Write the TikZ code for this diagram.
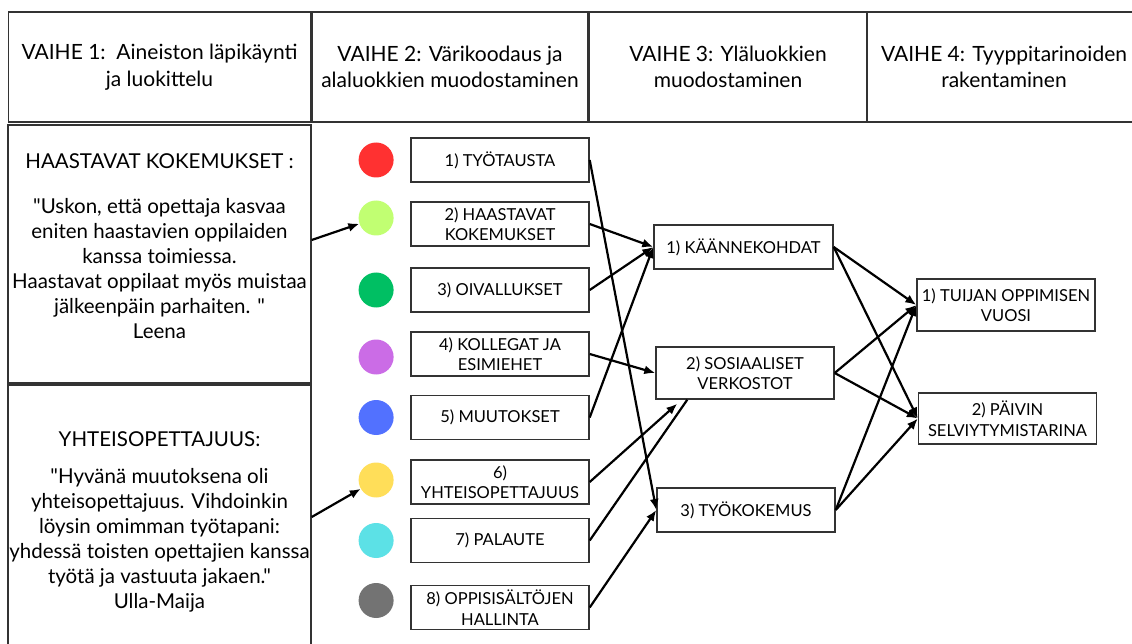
\documentclass[tikz,border=0pt]{standalone}
\usepackage{fontspec}
\setmainfont{Lato}[Ligatures=TeXOff]
\usetikzlibrary{positioning,arrows.meta}

\definecolor{reuna}{HTML}{333333}
\definecolor{punainen}{HTML}{FF3131}
\definecolor{lime}{HTML}{C1FF72}
\definecolor{vihrea}{HTML}{00BF63}
\definecolor{violetti}{HTML}{CB6CE6}
\definecolor{sininen}{HTML}{5271FF}
\definecolor{keltainen}{HTML}{FFDE59}
\definecolor{turkoosi}{HTML}{5CE1E6}
\definecolor{harmaa}{HTML}{737373}

\tikzset{
  vaihe/.style={draw=reuna, line width=1.4pt, minimum height=110pt, inner sep=0pt,
    align=center, font=\fontsize{21}{26.5}\selectfont},
  paneeli/.style={draw=reuna, line width=1.4pt, minimum width=303pt, inner sep=0pt},
  lainaus/.style={align=center, font=\fontsize{20.5}{25}\selectfont, inner sep=0pt},
  pallo/.style={circle, minimum size=35pt, inner sep=0pt},
  luokka/.style={draw=reuna, line width=1.4pt, minimum width=178pt, minimum height=44pt,
    inner sep=3pt, align=center, font=\fontsize{16.5}{20.5}\selectfont},
  nuoli/.style={-{Latex[length=11pt,width=9pt]}, line width=2.2pt},
  viiva/.style={line width=2.2pt},
}

\begin{document}
\begin{tikzpicture}[x=1pt, y=-1pt, node distance=16.5pt]

  \path[use as bounding box, fill=white] (0,0) rectangle (1132,644);

  % Header row
  \node[vaihe, minimum width=302pt] (vaihe1) at (159.5,67) {VAIHE 1:\ \ Aineiston läpikäynti\\ja luokittelu};
  \node[vaihe, minimum width=276pt] (vaihe2) at (450,67)   {VAIHE 2: Värikoodaus ja\\alaluokkien muodostaminen};
  \node[vaihe, minimum width=278pt] (vaihe3) at (728,67)   {VAIHE 3: Yläluokkien\\muodostaminen};
  \node[vaihe, minimum width=274pt] (vaihe4) at (1004,67)  {VAIHE 4: Tyyppitarinoiden\\rakentaminen};

  % Quote panels
  \node[paneeli, minimum height=258pt] (haaste) at (159.5,254) {};
  \node[lainaus] (haasteteksti) at (159.5,246) {HAASTAVAT KOKEMUKSET :\\[20pt]
    "Uskon, että opettaja kasvaa\\eniten haastavien oppilaiden\\kanssa toimiessa.\\
    Haastavat oppilaat myös muistaa\\jälkeenpäin parhaiten. "\\Leena};

  \node[paneeli, minimum height=272pt] (yhteis) at (159.5,521) {};
  \node[lainaus] (yhteisteksti) at (159.5,522) {YHTEISOPETTAJUUS:\\[12pt]
    "Hyvänä muutoksena oli\\yhteisopettajuus. Vihdoinkin\\löysin omimman työtapani:\\
    yhdessä toisten opettajien kanssa\\työtä ja vastuuta jakaen."\\Ulla-Maija};

  % Sub-categories
  \node[luokka] (tyotausta)   at (500,160)   {1) TYÖTAUSTA};
  \node[luokka] (haastavat)   at (500,224)   {2) HAASTAVAT\\KOKEMUKSET};
  \node[luokka] (oivallukset) at (500,290)   {3) OIVALLUKSET};
  \node[luokka] (kollegat)    at (500,354)   {4) KOLLEGAT JA\\ESIMIEHET};
  \node[luokka] (muutokset)   at (500,417.5) {5) MUUTOKSET};
  \node[luokka] (yhteisope)   at (500,482)   {6)\\YHTEISOPETTAJUUS};
  \node[luokka] (palaute)     at (500,540.5) {7) PALAUTE};
  \node[luokka] (sisallot)    at (500,607.5) {8) OPPISISÄLTÖJEN\\HALLINTA};

  % Colour codes
  \node[pallo, fill=punainen,  left=of tyotausta]             (pallo1) {};
  \node[pallo, fill=lime,      left=of haastavat, yshift=6pt] (pallo2) {};
  \node[pallo, fill=vihrea,    left=of oivallukset]           (pallo3) {};
  \node[pallo, fill=violetti,  left=of kollegat, yshift=-3pt] (pallo4) {};
  \node[pallo, fill=sininen,   left=of muutokset]             (pallo5) {};
  \node[pallo, fill=keltainen, left=of yhteisope, yshift=2pt] (pallo6) {};
  \node[pallo, fill=turkoosi,  left=of palaute]               (pallo7) {};
  \node[pallo, fill=harmaa,    left=of sisallot, yshift=7pt]  (pallo8) {};

  % Upper categories
  \node[luokka, minimum width=179pt] (kaanne)      at (743.5,247) {1) KÄÄNNEKOHDAT};
  \node[luokka, minimum height=52pt] (sosiaaliset) at (745,373)   {2) SOSIAALISET\\VERKOSTOT};
  \node[luokka]                      (tyokokemus)  at (746,510)   {3) TYÖKOKEMUS};

  % Type stories
  \node[luokka, minimum height=52pt] (tuija) at (1006,305)   {1) TUIJAN OPPIMISEN\\VUOSI};
  \node[luokka, minimum height=51pt] (paivi) at (1007.5,418.5) {2) PÄIVIN\\SELVIYTYMISTARINA};

  % Edges
  \draw[nuoli] ([yshift=14pt]haaste.east) -- (pallo2);
  \draw[nuoli] ([yshift=4pt]yhteis.east) -- (pallo6);

  \draw[nuoli] (tyotausta.east)   -- (tyokokemus.west);
  \draw[nuoli] (haastavat.east)   -- (kaanne.west);
  \draw[nuoli] (oivallukset.east) -- (kaanne.west);
  \draw[nuoli] (kollegat.east)    -- (sosiaaliset.west);
  \draw[nuoli] (muutokset.east)   -- (kaanne.west);
  \draw[nuoli] (yhteisope.east)   -- ([xshift=22pt,yshift=-4pt]sosiaaliset.south west);
  \draw[viiva] (palaute.east)     -- ([xshift=32pt]sosiaaliset.south west);
  \draw[nuoli] (sisallot.east)    -- (tyokokemus.west);

  \draw[nuoli] (kaanne.east)      -- (tuija.west);
  \draw[nuoli] (kaanne.east)      -- (paivi.west);
  \draw[nuoli] (sosiaaliset.east) -- (tuija.west);
  \draw[nuoli] (sosiaaliset.east) -- (paivi.west);
  \draw[nuoli] (tyokokemus.east)  -- (tuija.west);
  \draw[nuoli] (tyokokemus.east)  -- (paivi.west);

\end{tikzpicture}
\end{document}
